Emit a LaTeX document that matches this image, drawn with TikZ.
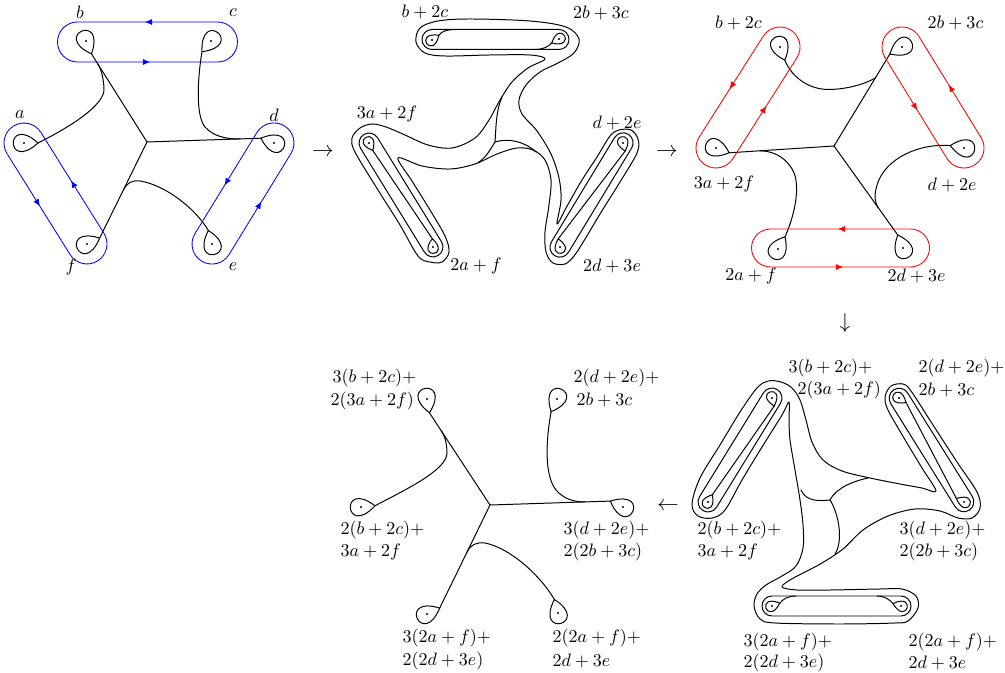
\documentclass[tikz,border=0pt]{standalone}
\usetikzlibrary{calc,arrows.meta}
\newcommand\lasso[4][]{\draw[#1] ($(#2)+(#3:14*#4)$) .. controls ($(#2)+(#3:-19*#4)+(#3+90:30*#4)$) and ($(#2)+(#3:-19*#4)+(#3-90:30*#4)$) .. ($(#2)+(#3:14*#4)$);}
\newcommand\stad[5][]{\draw[#1] ($(#2)+(#3:#4+#5)$) arc[start angle=#3,end angle=#3-90,radius=#5] -- ($(#2)+(#3:-#4)+(#3-90:#5)$) arc[start angle=#3-90,end angle=#3-270,radius=#5] -- ($(#2)+(#3:#4)+(#3+90:#5)$) arc[start angle=#3+90,end angle=#3,radius=#5] -- cycle;}
\newcommand\stadarr[5][]{\stad[#1,loopline]{#2}{#3}{#4}{#5}
  \draw[#1,tipline] ($(#2)+(#3-90:#5)+(#3:4)$) -- ($(#2)+(#3-90:#5)+(#3:-2.5)$);
  \draw[#1,tipline] ($(#2)+(#3+90:#5)+(#3:-4)$) -- ($(#2)+(#3+90:#5)+(#3:2.5)$);}
\newcommand\pdot[1]{\fill (#1) circle[radius=1.1];}
\newcommand\lbase[4]{\coordinate (#1) at ($(#2)+(#3:14*#4)$);}
\begin{document}
\begin{tikzpicture}[x=0.555pt,y=-0.555pt,line width=0.55pt,line join=round,line cap=round,
  lab/.style={inner sep=0.5pt},
  lw/.style={inner sep=0pt,anchor=west},
  arrowlbl/.style={inner sep=0pt,font=\large},
  loopline/.style={line width=0.5pt,dash pattern=on 1.6pt off 0.35pt},
  tipline/.style={line width=0.4pt,-{Latex[length=3.9pt,width=3.4pt]}}]
\useasboundingbox (0,0) rectangle (1005,673);

%% ---------------- Panel 1 ----------------
\coordinate (pa) at (24,143); \coordinate (pb) at (86,41); \coordinate (pc) at (211,41);
\coordinate (pd) at (274,143); \coordinate (pe) at (212,244); \coordinate (pf) at (87,244);
\coordinate (O1) at (147,142);
\foreach \p in {pa,pb,pc,pd,pe,pf} {\pdot{\p}}
\lasso{pb}{67}{1} \lbase{pbt}{pb}{67}{1}
\lasso{pa}{0}{1} \lbase{pat}{pa}{0}{1}
\lasso{pc}{130}{1} \lbase{pct}{pc}{130}{1}
\lasso{pd}{200}{1} \lbase{pdt}{pd}{200}{1}
\lasso{pe}{-105}{1} \lbase{pet}{pe}{-105}{1}
\lasso{pf}{-25}{1} \lbase{pft}{pf}{-25}{1}
\draw (O1) -- (pbt);
\draw (O1) -- (pdt);
\draw (O1) -- (pft);
\draw (pat) .. controls (68,128) and (106,105) .. (104,88) .. controls (103.5,80) and (102,71) .. (97.9,64);
\draw (pct) .. controls (198,75) and (195,115) .. (205,127) .. controls (213,136) and (225,139) .. (240,139);
\draw (123.4,190) .. controls (126.9,182.8) and (132,180) .. (140,181) .. controls (165,185) and (195,208) .. (pet);
\stadarr[blue]{147.5,42}{0}{70}{20}
\stadarr[blue]{55.5,193.5}{58}{59.5}{20}
\stadarr[blue]{243,193.5}{121.5}{59.3}{20}
\node[lab] (la1) at (20,115) {$a$};
\node[lab] (lb1) at (80,12) {$b$};
\node[lab] (lc1) at (233,13) {$c$};
\node[lab] (ld1) at (274,115) {$d$};
\node[lab] (le1) at (233,267) {$e$};
\node[lab] (lf1) at (71,267) {$f$};

\node[arrowlbl] (ar1) at (323,153) {$\rightarrow$};

%% ---------------- Panel 2 ----------------
\coordinate (T1) at (432,40); \coordinate (T2) at (559,39);
\coordinate (L1) at (369,143); \coordinate (L2) at (433,247);
\coordinate (R1) at (623,143); \coordinate (R2) at (560,247);
\coordinate (J2) at (495,142);
\foreach \p in {T1,T2,L1,L2,R1,R2} {\pdot{\p}}
\lasso{T1}{-35}{0.6} \lbase{T1t}{T1}{-35}{0.6}
\lasso{T2}{151}{0.6} \lbase{T2t}{T2}{151}{0.6}
\draw (T1t) .. controls (442,31) and (447,29.6) .. (456,29.5);
\draw (T2t) .. controls (548,47) and (543,49.4) .. (535,49.5);
\stad{495.5,39.5}{0}{63.5}{10}
\lasso{L1}{63}{0.6} \lbase{L1t}{L1}{63}{0.6}
\lasso{L2}{-95}{0.6} \lbase{L2t}{L2}{-95}{0.6}
\draw (L1t) -- (L2t);
\stad{401,195}{58.4}{61}{10}
\lasso{R1}{75}{0.6} \lbase{R1t}{R1}{75}{0.6}
\lasso{R2}{-102}{0.6} \lbase{R2t}{R2}{-102}{0.6}
\draw (R1t) -- (R2t);
\stad{591.5,195}{-58.8}{61}{10}
\draw plot[smooth cycle,tension=0.55] coordinates {
 (470,19) (530,21) (566,27) (579,39) (574,53) (558,63) (540,72) (526,85) (519,100) (522,114) (537,131) (551,154) (559,178) (561,200) (557,224)
 (566,208) (582,180) (597,157) (610,136) (619,130) (631,130) (638,139) (637,153) (620,182) (600,214) (582,244) (574,256) (565,264) (553,263) (546,252)
 (545,232) (549,205) (551,180) (545,160) (533,150) (517,148) (497,154) (475,164) (450,169) (422,166) (398,158)
 (412,181) (430,210) (445,236) (449,252) (442,262) (430,262) (418,256) (400,225) (378,190) (355,152) (352,138) (360,128) (372,124)
 (386,127) (405,135) (428,145) (452,148) (475,138) (489,120) (500,100) (512,82) (528,68) (545,59)
 (530,55) (490,55) (445,56) (425,53) (416,42) (420,28) (438,21)};
\draw (J2) .. controls (496,128) and (496,110) .. (502,97);
\draw (J2) .. controls (490,150) and (485.3,158.7) .. (478,162.5);
\draw (J2) .. controls (508,138) and (524,141) .. (536,152);
\node[lab] (l2a) at (425,12) {$b+2c$};
\node[lab] (l2b) at (601,13) {$2b+3c$};
\node[lab] (l2c) at (387,114) {$3a+2f$};
\node[lab] (l2d) at (617,123) {$d+2e$};
\node[lab] (l2e) at (476,266) {$2a+f$};
\node[lab] (l2f) at (612,266) {$2d+3e$};

\node[arrowlbl] (ar2) at (667,153) {$\rightarrow$};

%% ---------------- Panel 3 ----------------
\coordinate (q1) at (780,47); \coordinate (q2) at (902,47); \coordinate (q3) at (716,148);
\coordinate (q4) at (964,148); \coordinate (q5) at (778,249); \coordinate (q6) at (903,248);
\coordinate (O3) at (834,146);
\foreach \p in {q1,q2,q3,q4,q5,q6} {\pdot{\p}}
\lasso{q1}{70}{1} \lbase{q1t}{q1}{70}{1}
\lasso{q2}{150}{1} \lbase{q2t}{q2}{150}{1}
\lasso{q3}{20}{1} \lbase{q3t}{q3}{20}{1}
\lasso{q4}{190}{1} \lbase{q4t}{q4}{190}{1}
\lasso{q5}{-60}{1} \lbase{q5t}{q5}{-60}{1}
\lasso{q6}{248}{1} \lbase{q6t}{q6}{248}{1}
\draw (O3) -- (q2t);
\draw (O3) -- (q6t);
\draw (O3) -- (q3t);
\draw (q1t) .. controls (793,80) and (812,90) .. (830,89.5) .. controls (848,89) and (865,84) .. (875.3,78);
\draw (q4t) .. controls (920,143) and (885,158) .. (877,185) .. controls (874,196) and (874.3,201.5) .. (878.4,208);
\draw (q5t) .. controls (796,212) and (802,180) .. (790,166) .. controls (783,156) and (772,151) .. (760,150.8);
\stadarr[red]{748,97.5}{122.4}{59.8}{20}
\stadarr[red]{933,97.5}{58.45}{59.3}{20}
\stadarr[red]{840.5,248}{0}{70}{19}
\node[lab] (l3a) at (738.5,23) {$b+2c$};
\node[lab] (l3b) at (955.5,23) {$2b+3c$};
\node[lab] (l3c) at (724,184) {$3a+2f$};
\node[lab] (l3d) at (952,185) {$d+2e$};
\node[lab] (l3e) at (751,276) {$2a+f$};
\node[lab] (l3f) at (916.5,276) {$2d+3e$};

\node[arrowlbl] (ar3) at (845,323) {$\downarrow$};

%% ---------------- Panel 5 (bottom right) ----------------
\coordinate (P5) at (772,398); \coordinate (Q5) at (708,502);
\coordinate (A5) at (899,398); \coordinate (B5) at (964,502);
\coordinate (C5) at (772,606); \coordinate (D5) at (901,606);
\coordinate (J5) at (830,500);
\foreach \p in {P5,Q5,A5,B5,C5,D5} {\pdot{\p}}
\lasso{P5}{75}{0.6} \lbase{P5t}{P5}{75}{0.6}
\lasso{Q5}{-59}{0.6} \lbase{Q5t}{Q5}{-59}{0.6}
\draw (P5t) -- (Q5t);
\stad{740,450}{121.6}{61}{10}
\lasso{A5}{33}{0.6} \lbase{A5t}{A5}{33}{0.6}
\lasso{B5}{205}{0.6} \lbase{B5t}{B5}{205}{0.6}
\draw (A5t) -- (B5t);
\stad{931.5,450}{58}{61}{10}
\lasso{C5}{-20}{0.6} \lbase{C5t}{C5}{-20}{0.6}
\lasso{D5}{197}{0.6} \lbase{D5t}{D5}{197}{0.6}
\draw (C5t) .. controls (783,599) and (788,596) .. (796,596);
\draw (D5t) .. controls (890,600) and (885,596) .. (877,596);
\stad{836.5,606}{0}{64.5}{10}
\draw plot[smooth cycle,tension=0.55] coordinates {
 (768,381) (781,382) (792,388) (800,400) (806,420) (812,442) (823,460) (842,471) (870,478) (900,484) (922,488) (936,491)
 (922,468) (904,438) (888,410) (885,397) (891,386) (903,384) (911,391) (933,425) (957,462) (977,492) (980,508) (972,518) (958,518)
 (940,511) (915,509) (888,516) (863,530) (843,549) (822,563) (805,572) (790,580) (782,587)
 (797,590) (830,590) (880,589) (902,589) (916,596) (918,608) (908,621) (895,623) (840,624) (775,623) (760,619) (754,606) (757,594) (766,585)
 (782,576) (796,566) (803,548) (803,525) (800,500) (795,470) (790,440) (789,420) (789,402)
 (782,415) (762,447) (742,480) (725,510) (712,518) (698,516) (692,504) (700,478) (720,445) (740,412) (757,388)};
\draw (J5) .. controls (820,501) and (806,502) .. (801,490);
\draw (J5) .. controls (834,492) and (845,483) .. (868,478);
\draw (J5) .. controls (838,512) and (844,540) .. (835,554);
\node[lw] (l5a1) at (788,368) {$3(b+2c)+$};
\node[lw] (l5a2) at (797,390) {$2(3a+2f)$};
\node[lw] (l5b1) at (918,368) {$2(d+2e)+$};
\node[lw] (l5b2) at (918,390) {$2b+3c$};
\node[lw] (l5c1) at (697,530) {$2(b+2c)+$};
\node[lw] (l5c2) at (697,552) {$3a+2f$};
\node[lw] (l5d1) at (899,530) {$3(d+2e)+$};
\node[lw] (l5d2) at (899,552) {$2(2b+3c)$};
\node[lw] (l5e1) at (743,642) {$3(2a+f)+$};
\node[lw] (l5e2) at (743,663) {$2(2d+3e)$};
\node[lw] (l5f1) at (908,642) {$2(2a+f)+$};
\node[lw] (l5f2) at (908,663) {$2d+3e$};

\node[arrowlbl] (ar4) at (668,507) {$\leftarrow$};

%% ---------------- Panel 4 (bottom left) ----------------
\coordinate (r1) at (427,399); \coordinate (r2) at (361,507); \coordinate (r3) at (557,399);
\coordinate (r4) at (623,507); \coordinate (r5) at (427,614); \coordinate (r6) at (558,613);
\coordinate (O4) at (490,505);
\foreach \p in {r1,r2,r3,r4,r5,r6} {\pdot{\p}}
\lasso{r1}{80}{1} \lbase{r1t}{r1}{80}{1}
\lasso{r2}{-5}{1} \lbase{r2t}{r2}{-5}{1}
\lasso{r3}{115}{1} \lbase{r3t}{r3}{115}{1}
\lasso{r4}{205}{1} \lbase{r4t}{r4}{205}{1}
\lasso{r5}{-25}{1} \lbase{r5t}{r5}{-25}{1}
\lasso{r6}{-105}{1} \lbase{r6t}{r6}{-105}{1}
\draw (O4) -- (r1t);
\draw (O4) -- (r4t);
\draw (O4) -- (r5t);
\draw (r2t) .. controls (405,490) and (447,470) .. (447,453) .. controls (447,446) and (445.8,437.7) .. (441.4,431);
\draw (r3t) .. controls (546,440) and (544,475) .. (556,490) .. controls (563,498) and (572,502) .. (585,502);
\draw (467.1,552) .. controls (470.6,544.8) and (476,542) .. (485,543) .. controls (510,548) and (540,575) .. (r6t);
\node[lw] (l4a1) at (332,378) {$3(b+2c)+$};
\node[lw] (l4a2) at (330,401) {$2(3a+2f)$};
\node[lw] (l4b1) at (573,378) {$2(d+2e)+$};
\node[lw] (l4b2) at (576,400) {$2b+3c$};
\node[lw] (l4c1) at (340,530) {$2(b+2c)+$};
\node[lw] (l4c2) at (340,552) {$3a+2f$};
\node[lw] (l4d1) at (563,530) {$3(d+2e)+$};
\node[lw] (l4d2) at (563,552) {$2(2b+3c)$};
\node[lw] (l4e1) at (402,638) {$3(2a+f)+$};
\node[lw] (l4e2) at (402,661) {$2(2d+3e)$};
\node[lw] (l4f1) at (552,638) {$2(2a+f)+$};
\node[lw] (l4f2) at (552,661) {$2d+3e$};
\end{tikzpicture}
\end{document}
